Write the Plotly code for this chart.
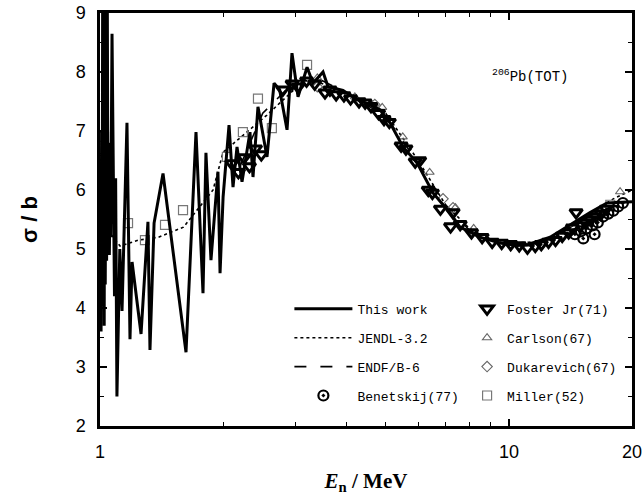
import plotly.graph_objects as go

# ---------------- data ----------------
this_work_e = [1.000, 1.003, 1.006, 1.009, 1.012, 1.015, 1.018, 1.021, 1.024, 1.027,
               1.030, 1.034, 1.038, 1.042, 1.046, 1.050, 1.054, 1.058, 1.062, 1.070,
               1.085, 1.092, 1.100, 1.118, 1.132, 1.164, 1.184, 1.198, 1.260, 1.310,
               1.325, 1.356, 1.426, 1.623, 1.717, 1.786, 1.816, 1.868, 1.943, 1.966,
               2.000, 2.068, 2.115, 2.163, 2.225, 2.280, 2.327, 2.367, 2.434, 2.561,
               2.665, 2.750, 2.867, 2.948, 3.050, 3.209, 3.319, 3.511, 3.611, 3.929,
               4.251, 4.498, 4.839, 5.120, 5.508, 5.962, 6.523, 7.178, 7.593, 8.500,
               9.51, 10.5, 11.07, 12.61, 14.35, 15.79, 17.38, 20.0]
this_work_s = [5.40, 6.10, 3.60, 7.00, 4.20, 9.30, 5.00, 6.90, 3.70, 9.40,
               4.40, 7.60, 4.80, 9.20, 5.20, 6.80, 4.90, 5.80, 5.20, 8.65,
               4.20, 6.20, 2.50, 5.00, 3.95, 7.14, 3.47, 4.78, 3.56, 5.46,
               3.29, 5.44, 6.28, 3.25, 6.98, 4.25, 6.63, 4.81, 6.31, 4.59,
               5.88, 7.10, 6.05, 6.73, 6.14, 6.60, 6.98, 6.22, 7.41, 6.56,
               7.81, 7.70, 7.02, 8.32, 7.58, 8.08, 7.81, 8.00, 7.75, 7.69,
               7.53, 7.47, 7.36, 7.14, 6.73, 6.46, 5.95, 5.61, 5.37, 5.20,
               5.10, 5.06, 5.07, 5.20, 5.45, 5.62, 5.78, 5.80]

jendl_e = [1.00, 1.05, 1.12, 1.24, 1.39, 1.47, 1.60, 1.89, 2.00, 2.56, 3.2, 4.0,
           5.0, 6.0, 7.0, 8.0, 9.0, 10.0, 12.0, 14.0, 16.0, 18.0, 20.0]
jendl_s = [5.60, 5.30, 5.05, 5.15, 5.20, 5.27, 5.37, 6.00, 6.64, 7.27, 7.90, 7.65,
           7.30, 6.50, 5.75, 5.35, 5.18, 5.10, 5.12, 5.35, 5.62, 5.85, 6.00]

endf_e = [2.2, 2.5, 3.0, 3.5, 4.0, 5.0, 6.0, 7.0, 8.0, 9.0, 10.0, 12.0, 14.0, 16.0, 18.0, 20.0]
endf_s = [6.40, 7.30, 7.85, 7.85, 7.65, 7.25, 6.45, 5.75, 5.32, 5.15, 5.08, 5.12, 5.35, 5.58, 5.72, 5.80]

benetskij_e = [14.5, 15.0, 15.2, 15.5, 16.0, 16.2, 16.5, 17.0, 17.5, 18.0, 18.5, 19.0]
benetskij_s = [5.25, 5.30, 5.18, 5.35, 5.40, 5.25, 5.45, 5.55, 5.60, 5.65, 5.72, 5.78]

foster_e = [2.10, 2.18, 2.25, 2.32, 2.40, 2.48, 2.80, 2.95, 3.05, 3.20, 3.35, 3.55,
            3.65, 3.78, 3.95, 4.10, 4.30, 4.45, 4.60, 4.80, 4.95, 5.10, 5.45, 5.60,
            5.90, 6.05, 6.35, 6.50, 6.80, 7.30, 7.20, 7.60, 8.10, 8.60, 9.10, 9.60,
            10.1, 10.6, 11.1, 11.6, 12.0, 12.5, 13.0, 13.5, 14.0, 14.3, 14.6, 15.0,
            15.4, 15.8, 16.3, 16.8, 17.3]
foster_s = [6.45, 6.30, 6.55, 6.40, 6.70, 6.60, 7.70, 7.80, 7.75, 7.85, 7.80, 7.65,
            7.70, 7.62, 7.60, 7.55, 7.50, 7.48, 7.42, 7.30, 7.20, 7.15, 6.75, 6.70,
            6.48, 6.50, 6.00, 5.95, 5.68, 5.62, 5.38, 5.42, 5.28, 5.20, 5.12, 5.10,
            5.08, 5.06, 5.02, 5.05, 5.08, 5.12, 5.15, 5.22, 5.28, 5.36, 5.62, 5.40,
            5.45, 5.50, 5.55, 5.60, 5.68]

carlson_e = [3.4, 4.2, 4.9, 5.5, 6.4, 7.4, 8.2, 18.7]
carlson_s = [7.90, 7.58, 7.40, 6.90, 6.30, 5.70, 5.35, 5.97]

dukarevich_e = [3.4, 4.7, 6.9, 7.3]
dukarevich_s = [7.75, 7.45, 5.85, 5.70]

miller_e = [1.00, 1.023, 1.171, 1.288, 1.442, 1.596, 2.043, 2.236, 2.434, 2.632, 3.209, 17.7]
miller_s = [5.42, 6.90, 5.44, 5.15, 5.41, 5.66, 6.56, 6.98, 7.55, 7.05, 8.12, 5.75]

x_tick_vals = [1, 10, 20]
x_tick_text = ["1", "10", "20"]
x_minor_vals = [2, 3, 4, 5, 6, 7, 8, 9]

# ---------------- figure ----------------
LF = dict(family="Liberation Mono", size=13, color="black")

fig = go.Figure()

fig.add_trace(go.Scatter(x=jendl_e, y=jendl_s, mode="lines", name="JENDL-3.2",
                         line=dict(color="black", width=1.6, dash="dot"),
                         legend="legend", legendgroup="b", legendrank=2))
fig.add_trace(go.Scatter(x=endf_e, y=endf_s, mode="lines", name="ENDF/B-6",
                         line=dict(color="black", width=1.6, dash="12px,14px"),
                         legend="legend", legendgroup="c", legendrank=3))
fig.add_trace(go.Scatter(x=miller_e, y=miller_s, mode="markers", name="Miller(52)",
                         marker=dict(symbol="square-open", size=9, color="#777777", line=dict(width=1.2)),
                         legend="legend2", legendgroup="h", legendrank=8))
fig.add_trace(go.Scatter(x=carlson_e, y=carlson_s, mode="markers", name="Carlson(67)",
                         marker=dict(symbol="triangle-up-open", size=8, color="#666666", line=dict(width=1.1)),
                         legend="legend2", legendgroup="f", legendrank=6))
fig.add_trace(go.Scatter(x=dukarevich_e, y=dukarevich_s, mode="markers", name="Dukarevich(67)",
                         marker=dict(symbol="diamond-open", size=8, color="#666666", line=dict(width=1.1)),
                         legend="legend2", legendgroup="g", legendrank=7))
fig.add_trace(go.Scatter(x=this_work_e, y=this_work_s, mode="lines", name="This work",
                         line=dict(color="black", width=3),
                         legend="legend", legendgroup="a", legendrank=1))
fig.add_trace(go.Scatter(x=foster_e, y=foster_s, mode="markers", name="Foster Jr(71)",
                         marker=dict(symbol="triangle-down-open", size=11, color="black", line=dict(width=3)),
                         legend="legend2", legendgroup="e", legendrank=5))
fig.add_trace(go.Scatter(x=benetskij_e, y=benetskij_s, mode="markers", name="Benetskij(77)",
                         marker=dict(symbol="circle-open-dot", size=10, color="black", line=dict(width=2.2)),
                         legend="legend", legendgroup="d", legendrank=4))

fig.add_annotation(x=0.808, y=0.848, xref="paper", yref="paper", showarrow=False,
                   text="<sup>206</sup>Pb(TOT)", xanchor="center", yanchor="middle",
                   font=dict(family="Liberation Mono", size=14, color="black"))

axis_common = dict(showline=True, linewidth=2.5, linecolor="black", mirror="allticks",
                   ticks="inside", tickcolor="black", tickwidth=1.5, ticklen=7,
                   showgrid=False, zeroline=False, automargin=False,
                   ticklabeloverflow="allow")

fig.update_xaxes(type="log", range=[0, 1.30104], tickvals=x_tick_vals, ticktext=x_tick_text,
                 tickfont=dict(family="Liberation Sans", size=18, color="black"),
                 ticklabelstandoff=8,
                 minor=dict(tickvals=x_minor_vals, ticks="inside", ticklen=4, tickcolor="black", tickwidth=1.2),
                 title=dict(text="<b><i>E</i><sub>n</sub> / MeV</b>", standoff=12,
                            font=dict(family="Liberation Serif", size=21, color="black")),
                 **axis_common)
fig.update_yaxes(range=[2, 9], dtick=1, tick0=2,
                 tickfont=dict(family="Liberation Sans", size=18, color="black"),
                 ticklabelstandoff=8,
                 minor=dict(dtick=0.5, ticks="inside", ticklen=4, tickcolor="black", tickwidth=1.2),
                 title=dict(text="<b>σ / b</b>", standoff=32,
                            font=dict(family="Liberation Sans", size=22, color="black")),
                 **axis_common)

fig.update_layout(
    width=642, height=496,
    margin=dict(l=100, r=10, t=13, b=70),
    paper_bgcolor="white", plot_bgcolor="white",
    legend=dict(x=0.356, y=0.32, xanchor="left", yanchor="top", itemwidth=58,
                bgcolor="rgba(0,0,0,0)", font=LF, tracegroupgap=9, traceorder="grouped"),
    legend2=dict(x=0.69, y=0.32, xanchor="left", yanchor="top", itemwidth=30,
                 bgcolor="rgba(0,0,0,0)", font=LF, tracegroupgap=9, traceorder="grouped"),
)

fig.write_html("out.html")
